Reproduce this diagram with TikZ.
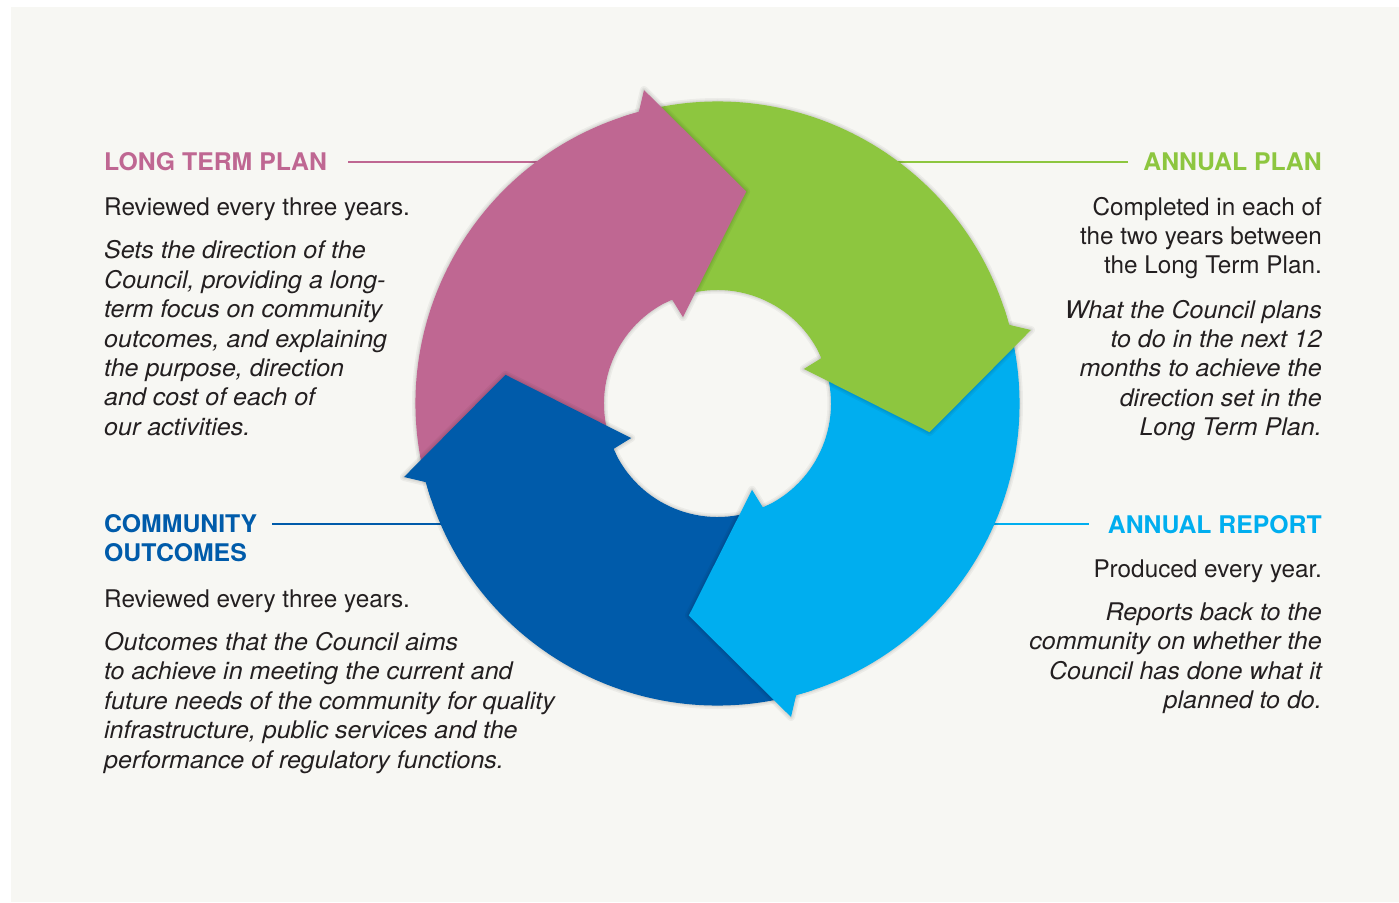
\documentclass[tikz,border=0pt]{standalone}
\usepackage{fontspec}
\setmainfont{TeX Gyre Heros}[BoldFeatures={FakeStretch=1.02}, ItalicFeatures={FakeStretch=1.03}]
\usepackage{tikz}
\usetikzlibrary{calc}
\definecolor{ltpcol}{RGB}{191,103,146}
\definecolor{apcol}{RGB}{141,198,63}
\definecolor{arcol}{RGB}{0,174,239}
\definecolor{cocol}{RGB}{0,91,170}
\definecolor{txtcol}{RGB}{35,31,32}
\definecolor{bgcol}{RGB}{247,247,243}
\newcommand{\txtsize}{\fontsize{24.3}{29.4}\selectfont}
\tikzstyle{ttl} = [inner sep=0, font=\txtsize\bfseries]
\tikzstyle{txt} = [inner sep=0, font=\txtsize, text=txtcol]
\tikzstyle{itxt} = [inner sep=0, font=\txtsize\itshape, text=txtcol]
\tikzstyle{lead} = [line width=2pt]
\tikzstyle{halo} = [black, opacity=0.045, line join=round]

\begin{document}
\begin{tikzpicture}[x=1pt, y=1pt]
\fill [white] (-717.5, 403.5) rectangle (681.5, -498.5);
\fill [bgcol] (-706.5, 396.5) rectangle (681.5, -498.5);
% texts (multi-line nodes sit on the baseline of their last line)
\node [ttl, text=ltpcol, anchor=base west] (LTP) at (-613.5, 232.5) {LONG TERM PLAN};
\node [txt, anchor=base west] (LTPa) at (-613.5, 187.5) {Reviewed every three years.};
\node [itxt, align=left, anchor=base west] (LTPb) at (-613.5, -31.8) {Sets the direction of the\\Council, providing a long-\\term focus on community\\outcomes, and explaining\\the purpose, direction\\and cost of each of\\our activities.};
\node [ttl, text=apcol, anchor=base east] (AP) at (604.5, 232.5) {ANNUAL PLAN};
\node [txt, align=right, anchor=base east] (APa) at (604.5, 129.5) {Completed in each of\\the two years between\\the Long Term Plan.};
\node [itxt, align=right, anchor=base east] (APb) at (604.5, -32.2) {What the Council plans\\to do in the next 12\\months to achieve the\\direction set in the\\Long Term Plan.};
\node [ttl, text=cocol, align=left, anchor=base west] (CO) at (-613.5, -158.2) {COMMUNITY\\OUTCOMES};
\node [txt, anchor=base west] (COa) at (-613.5, -203.8) {Reviewed every three years.};
\node [itxt, align=left, anchor=base west] (COb) at (-613.5, -364.5) {Outcomes that the Council aims\\to achieve in meeting the current and\\future needs of the community for quality\\infrastructure, public services and the\\performance of regulatory functions.};
\node [ttl, text=arcol, anchor=base east] (AR) at (604.5, -129.8) {ANNUAL REPORT};
\node [txt, anchor=base east] (ARa) at (604.5, -173.8) {Produced every year.};
\node [itxt, align=right, anchor=base east] (ARb) at (604.5, -305) {Reports back to the\\community on whether the\\Council has done what it\\planned to do.};
% leader lines, hidden under the ring at their inner ends
\coordinate (LTPend) at (-150, 241.8);
\coordinate (APend) at (150, 241.8);
\coordinate (COend) at (-200, -120.5);
\coordinate (ARend) at (200, -120.5);
\draw [lead, ltpcol] ([xshift=21pt, yshift=9.3pt]LTP.base east) -- (LTPend);
\draw [lead, apcol] ([xshift=-15pt, yshift=9.3pt]AP.base west) -- (APend);
\draw [lead, cocol] ([xshift=15pt, yshift=37.7pt]CO.base east) -- (COend);
\draw [lead, arcol] ([xshift=-18.7pt, yshift=9.3pt]AR.base west) -- (ARend);
% soft edge round the ring
\foreach \w in {7, 4, 2}
  \draw [halo, line width=\w pt] (0,0) circle (302pt) (0,0) circle (113.5pt);
% ring bodies
\foreach \a/\col in {82.3/ltpcol, -7.7/apcol, -97.7/arcol, 172.3/cocol}
  \fill [\col] ({\a+111.3}:302pt) arc [start angle=\a+111.3, end angle=\a+22.8, radius=302pt]
    -- ({\a+31.3}:113.5pt) arc [start angle=\a+31.3, end angle=\a+119.8, radius=113.5pt] -- cycle;
% arrow heads, each with a soft shadow on the next arrow
\foreach \a/\col in {82.3/ltpcol, -7.7/apcol, -97.7/arcol, 172.3/cocol} {
  \foreach \w in {8, 5, 2.5}
    \draw [halo, line width=\w pt] ({\a+22.8}:302pt) -- ({\a+20.9}:322pt) -- (\a:214pt) -- ({\a+29.5}:93pt) -- ({\a+31.3}:113.5pt);
  \fill [\col] ({\a+26}:302pt) arc [start angle=\a+26, end angle=\a+22.8, radius=302pt]
    -- ({\a+20.9}:322pt) -- (\a:214pt) -- ({\a+29.5}:93pt)
    -- ({\a+31.3}:113.5pt) arc [start angle=\a+31.3, end angle=\a+35, radius=113.5pt] -- cycle;
}
\end{tikzpicture}
\end{document}
